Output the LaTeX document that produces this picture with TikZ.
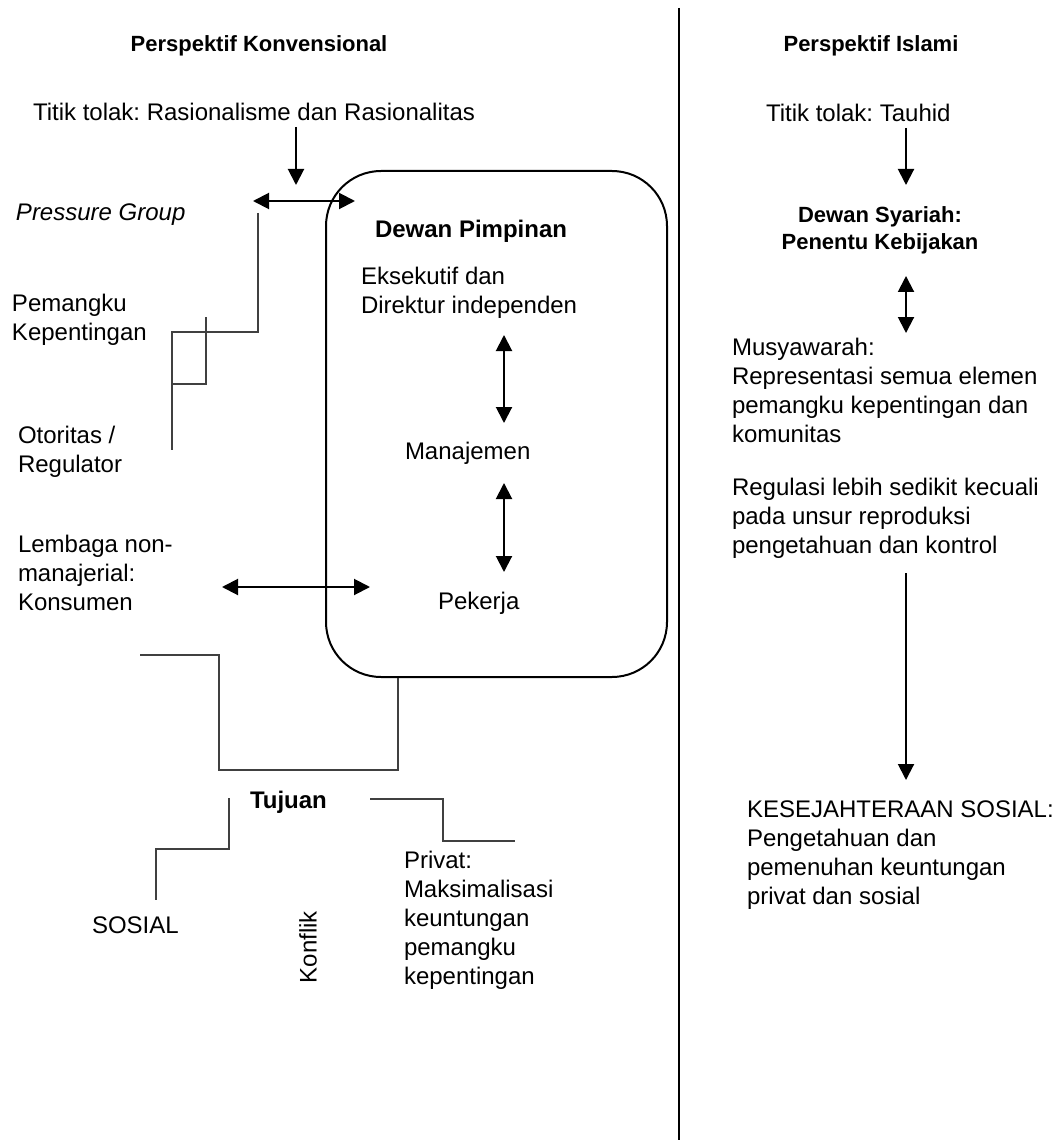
\documentclass[tikz,border=0pt]{standalone}
\usepackage{fontspec}
\setmainfont{Liberation Sans}
\usetikzlibrary{arrows.meta}
\frenchspacing

\tikzset{
  txt/.style={inner sep=0pt, outer sep=0pt, anchor=west, align=left, font=\fontsize{24}{29}\selectfont},
  bold/.style={txt, font=\fontsize{24}{29}\selectfont\bfseries},
  head/.style={inner sep=0pt, outer sep=0pt, align=center, font=\fontsize{22}{27}\selectfont\bfseries},
  arr/.style={line width=2pt, -{Triangle[width=16pt,length=16pt]}},
  darr/.style={line width=2pt, {Triangle[width=16pt,length=16pt]}-{Triangle[width=16pt,length=16pt]}},
  wire/.style={line width=1.2pt, draw=black!75},
  board/.style={draw, line width=2pt, rounded corners=55pt, minimum width=341pt, minimum height=506pt, inner sep=0pt}
}

\begin{document}
\begin{tikzpicture}[x=1pt, y=-1pt, line join=miter]
  \useasboundingbox (0,0) rectangle (1056,1147);

  % divider
  \coordinate (divtop) at (679,8);
  \coordinate (divbot) at (679,1140);
  \draw[line width=2pt] (divtop) -- (divbot);

  % left: konvensional
  \node[head] (hkonv) at (259,46) {Perspektif Konvensional};
  \node[txt] (titik) at (33,112) {Titik tolak: Rasionalisme dan Rasionalitas};
  \node[txt, font=\fontsize{24}{29}\selectfont\itshape] (pressure) at (16,215) {Pressure Group};
  \node[txt] (pemangku) at (12,320) {Pemangku\\Kepentingan};
  \node[txt] (otoritas) at (18,452) {Otoritas /\\Regulator};
  \node[txt] (lembaga) at (18,573) {Lembaga non-\\manajerial:\\Konsumen};

  \node[board] (board) at (496.5,424) {};
  \node[bold] (dewan) at (375,231) {Dewan Pimpinan};
  \node[txt] (eksekutif) at (361,293) {Eksekutif dan\\Direktur independen};
  \node[txt] (manajemen) at (405,453) {Manajemen};
  \node[txt] (pekerja) at (438,603) {Pekerja};

  \node[bold] (tujuan) at (250,802) {Tujuan};
  \node[txt] (sosial) at (92,925) {SOSIAL};
  \node[txt, rotate=90, anchor=center] (konflik) at (308,947) {Konflik};
  \node[txt] (privat) at (404,920) {Privat:\\Maksimalisasi\\keuntungan\\pemangku\\kepentingan};

  % arrows left
  \coordinate (t1) at (296,127);
  \coordinate (t2) at (296,185);
  \draw[arr] (t1) -- (t2);
  \coordinate (pg1) at (253,201);
  \coordinate (pg2) at (355,201);
  \draw[darr] (pg1) -- (pg2);
  \coordinate (m1) at (504,335);
  \coordinate (m2) at (504,423);
  \draw[darr] (m1) -- (m2);
  \coordinate (p1) at (504,483);
  \coordinate (p2) at (504,572);
  \draw[darr] (p1) -- (p2);
  \coordinate (k1) at (222,587);
  \coordinate (k2) at (370,587);
  \draw[darr] (k1) -- (k2);

  % brackets
  \coordinate (s1) at (258,213);
  \coordinate (s2) at (172,332);
  \coordinate (s3) at (172,450);
  \draw[wire] (s1) |- (s2) -- (s3);
  \coordinate (s4) at (206,317);
  \coordinate (s5) at (172,384);
  \draw[wire] (s4) |- (s5);
  \coordinate (w1) at (140,655);
  \coordinate (w2) at (219,770);
  \coordinate (w3) at (398,770);
  \draw[wire] (w1) -| (w2) -| (board.south -| w3);
  \coordinate (g1) at (229,798);
  \coordinate (g2) at (156,849);
  \coordinate (g3) at (156,900);
  \draw[wire] (g1) |- (g2) -- (g3);
  \coordinate (h1) at (370,799);
  \coordinate (h2) at (443,841);
  \coordinate (h3) at (515,841);
  \draw[wire] (h1) -| (h2) -- (h3);

  % right: islami
  \node[head] (hislam) at (871,46) {Perspektif Islami};
  \node[txt] (tauhid) at (766,113) {Titik tolak: Tauhid};
  \node[head] (syariah) at (880,230) {Dewan Syariah:\\Penentu Kebijakan};
  \node[txt] (musyawarah) at (732,390) {Musyawarah:\\Representasi semua elemen\\pemangku kepentingan dan\\komunitas};
  \node[txt] (regulasi) at (732,518) {Regulasi lebih sedikit kecuali\\pada unsur reproduksi\\pengetahuan dan kontrol};
  \node[txt] (sejahtera) at (747,855) {KESEJAHTERAAN SOSIAL:\\Pengetahuan dan\\pemenuhan keuntungan\\privat dan sosial};

  \coordinate (r1) at (906,128);
  \coordinate (r2) at (906,185);
  \draw[arr] (r1) -- (r2);
  \coordinate (r3) at (906,276);
  \coordinate (r4) at (906,333);
  \draw[darr] (r3) -- (r4);
  \coordinate (r5) at (906,573);
  \coordinate (r6) at (906,780);
  \draw[arr] (r5) -- (r6);
\end{tikzpicture}
\end{document}
